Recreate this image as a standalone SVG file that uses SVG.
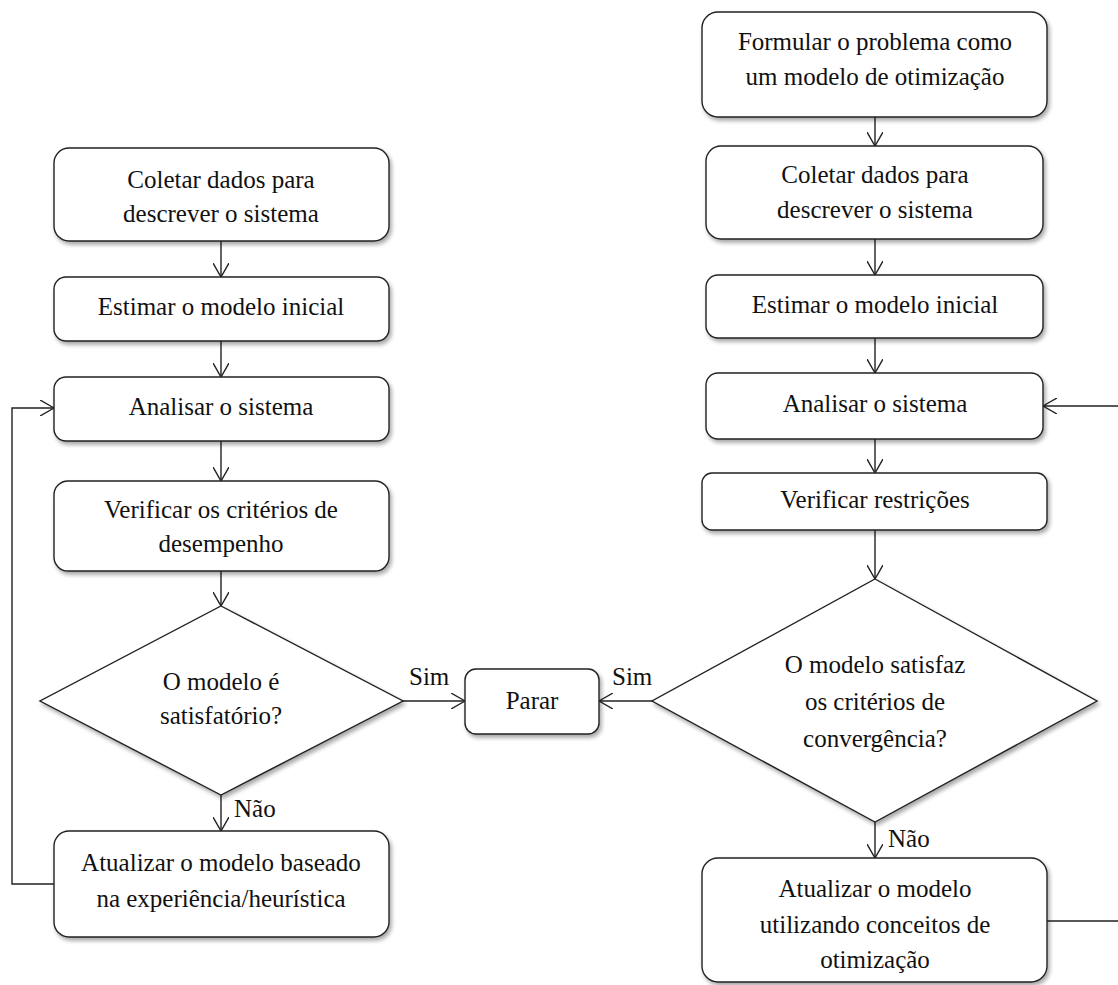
<svg xmlns="http://www.w3.org/2000/svg" width="1118" height="985" viewBox="0 0 1118 985">
<style>
.box{fill:#fff;stroke:#222;stroke-width:1.4;filter:url(#sh)}
.t{font-family:'Liberation Serif','Times New Roman',serif;font-size:25px;fill:#111;text-anchor:middle}
.lb{font-family:'Liberation Serif','Times New Roman',serif;font-size:25px;fill:#111}
.c{fill:none;stroke:#222;stroke-width:1.4}
</style>
<defs>
<filter id="sh" x="-10%" y="-10%" width="130%" height="140%">
<feGaussianBlur in="SourceAlpha" stdDeviation="2"/>
<feOffset dx="2" dy="3" result="b"/>
<feComponentTransfer><feFuncA type="linear" slope="0.35"/></feComponentTransfer>
<feMerge><feMergeNode/><feMergeNode in="SourceGraphic"/></feMerge>
</filter>
<marker id="a" viewBox="0 0 14 16" refX="14" refY="8" markerWidth="14" markerHeight="16" markerUnits="userSpaceOnUse" orient="auto">
<path d="M0,0 L14,8 L0,16" fill="none" stroke="#222" stroke-width="1.4"/>
</marker>
</defs>
<rect width="1118" height="985" fill="#fff"/>

<g id="connectors">
<line class="c" x1="221" y1="241" x2="221" y2="277" marker-end="url(#a)"/>
<line class="c" x1="221" y1="341" x2="221" y2="377" marker-end="url(#a)"/>
<line class="c" x1="221" y1="441" x2="221" y2="481" marker-end="url(#a)"/>
<line class="c" x1="221" y1="571" x2="221" y2="606" marker-end="url(#a)"/>
<line class="c" x1="221" y1="795" x2="221" y2="831" marker-end="url(#a)"/>
<polyline class="c" points="54,884 12,884 12,408 54,408" marker-end="url(#a)"/>
<line class="c" x1="403" y1="701" x2="465" y2="701" marker-end="url(#a)"/>
<line class="c" x1="653" y1="701" x2="599" y2="701" marker-end="url(#a)"/>
<line class="c" x1="875" y1="117" x2="875" y2="146" marker-end="url(#a)"/>
<line class="c" x1="875" y1="239" x2="875" y2="275" marker-end="url(#a)"/>
<line class="c" x1="875" y1="338" x2="875" y2="373" marker-end="url(#a)"/>
<line class="c" x1="875" y1="439" x2="875" y2="473" marker-end="url(#a)"/>
<line class="c" x1="875" y1="530" x2="875" y2="579" marker-end="url(#a)"/>
<line class="c" x1="875" y1="822" x2="875" y2="858" marker-end="url(#a)"/>
<polyline class="c" points="1047,921 1125,921 1125,406 1043,406" marker-end="url(#a)"/>
<text class="lb" x="409" y="685">Sim</text>
<text class="lb" x="612" y="685">Sim</text>
<text class="lb" x="234" y="817">Não</text>
<text class="lb" x="888" y="847">Não</text>
</g>

<g id="L1"><rect class="box" x="54" y="148" width="335" height="93" rx="15"/>
<text class="t" x="221" y="188">Coletar dados para</text><text class="t" x="221" y="222">descrever o sistema</text></g>
<g id="L2"><rect class="box" x="54" y="277" width="335" height="64" rx="12"/>
<text class="t" x="221" y="315">Estimar o modelo inicial</text></g>
<g id="L3"><rect class="box" x="54" y="377" width="335" height="64" rx="12"/>
<text class="t" x="221" y="415">Analisar o sistema</text></g>
<g id="L4"><rect class="box" x="54" y="481" width="335" height="90" rx="14"/>
<text class="t" x="221" y="518">Verificar os critérios de</text><text class="t" x="221" y="552">desempenho</text></g>
<g id="L5"><polygon class="box" points="221,606 403,701 221,795 40,701"/>
<text class="t" x="221" y="690">O modelo é</text><text class="t" x="221" y="724">satisfatório?</text></g>
<g id="L6"><rect class="box" x="54" y="831" width="335" height="106" rx="15"/>
<text class="t" x="221" y="871">Atualizar o modelo baseado</text><text class="t" x="221" y="907">na experiência/heurística</text></g>

<g id="P"><rect class="box" x="465" y="669" width="134" height="65" rx="11"/>
<text class="t" x="532" y="709">Parar</text></g>

<g id="R1"><rect class="box" x="702" y="12" width="345" height="105" rx="16"/>
<text class="t" x="875" y="50">Formular o problema como</text><text class="t" x="875" y="85">um modelo de otimização</text></g>
<g id="R2"><rect class="box" x="706" y="146" width="337" height="93" rx="15"/>
<text class="t" x="875" y="183">Coletar dados para</text><text class="t" x="875" y="218">descrever o sistema</text></g>
<g id="R3"><rect class="box" x="706" y="275" width="337" height="63" rx="12"/>
<text class="t" x="875" y="313">Estimar o modelo inicial</text></g>
<g id="R4"><rect class="box" x="706" y="373" width="337" height="66" rx="12"/>
<text class="t" x="875" y="412">Analisar o sistema</text></g>
<g id="R5"><rect class="box" x="702" y="473" width="345" height="57" rx="10"/>
<text class="t" x="875" y="508">Verificar restrições</text></g>
<g id="R6"><polygon class="box" points="875,579 1097,701 875,822 652,701"/>
<text class="t" x="875" y="673">O modelo satisfaz</text><text class="t" x="875" y="710">os critérios de</text><text class="t" x="875" y="747">convergência?</text></g>
<g id="R7"><rect class="box" x="702" y="858" width="345" height="124" rx="16"/>
<text class="t" x="875" y="897">Atualizar o modelo</text><text class="t" x="875" y="933">utilizando conceitos de</text><text class="t" x="875" y="968">otimização</text></g>
</svg>
